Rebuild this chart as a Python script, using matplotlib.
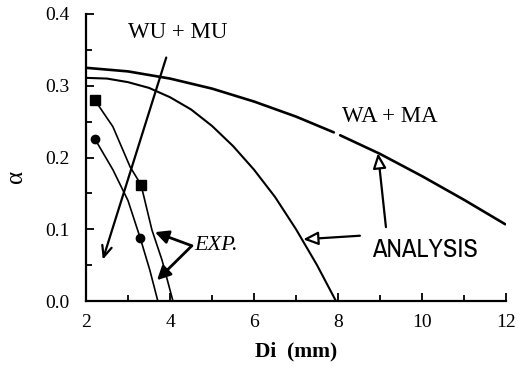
import numpy as np
import matplotlib
matplotlib.use("Agg")
import matplotlib.pyplot as plt
from matplotlib.ticker import MultipleLocator
from matplotlib import font_manager

# --- data ---
wa_x = [2.0, 3.0, 4.0, 5.0, 6.0, 7.0, 7.9, np.nan, 8.05, 9.0, 10.0, 11.0, 11.98]
wa_y = [0.325, 0.320, 0.310, 0.296, 0.278, 0.257, 0.235, np.nan, 0.231, 0.205, 0.174, 0.141, 0.107]

wu_x = [2.0, 2.5, 3.0, 3.5, 4.0, 4.5, 5.0, 5.5, 6.0, 6.5, 7.0, 7.5, 7.95]
wu_y = [0.311, 0.310, 0.305, 0.297, 0.284, 0.267, 0.244, 0.216, 0.183, 0.145, 0.100, 0.050, 0.0]

sq_line_x = [2.21, 2.64, 3.05, 3.31, 3.57, 3.81, 4.07]
sq_line_y = [0.280, 0.243, 0.187, 0.162, 0.099, 0.057, 0.0]
sq_x = [2.21, 3.31]
sq_y = [0.280, 0.162]

ci_line_x = [2.21, 2.64, 3.0, 3.29, 3.52, 3.71]
ci_line_y = [0.226, 0.183, 0.140, 0.088, 0.043, 0.0]
ci_x = [2.21, 3.29]
ci_y = [0.226, 0.088]

x_ticks = [2, 4, 6, 8, 10, 12]
y_ticks = [0.0, 0.1, 0.2, 0.3, 0.4]

serif = ["Liberation Serif", "DejaVu Serif"]

# pick a condensed sans font for "ANALYSIS" if one is installed
narrow, narrow_stretch, narrow_size = "Liberation Sans", "normal", 16
for f in font_manager.fontManager.ttflist:
    if f.style != "normal" or f.weight not in (400, "normal", "regular"):
        continue
    if "Narrow" in f.name or "Condensed" in f.name:
        narrow, narrow_stretch, narrow_size = f.name, f.stretch, 19
        break
else:
    for f in font_manager.fontManager.ttflist:
        if (f.stretch in ("condensed", "semi-condensed") and f.style == "normal"
                and f.weight in (400, "normal", "regular")
                and any(k in f.name for k in ("Sans", "Liberation", "Roboto", "Noto", "Open"))):
            narrow, narrow_stretch, narrow_size = f.name, f.stretch, 18
            break

fig = plt.figure(figsize=(5.18, 3.68), dpi=100)
ax = fig.add_axes([0.166, 0.182, 0.811, 0.780])

ax.plot(wa_x, wa_y, color="black", lw=1.9, solid_capstyle="round")
ax.plot(wu_x, wu_y, color="black", lw=1.5)
ax.plot(sq_line_x, sq_line_y, color="black", lw=1.2)
ax.plot(ci_line_x, ci_line_y, color="black", lw=1.2)
ax.plot(sq_x, sq_y, "s", color="black", ms=6.5, clip_on=False)
ax.plot(ci_x, ci_y, "o", color="black", ms=6, clip_on=False)

ax.set_xlim(2, 12)
ax.set_ylim(0, 0.4)
ax.set_xticks(x_ticks)
ax.set_yticks(y_ticks)
ax.set_yticklabels([f"{v:.1f}" for v in y_ticks])
ax.xaxis.set_minor_locator(MultipleLocator(1))
ax.yaxis.set_minor_locator(MultipleLocator(0.05))
ax.tick_params(which="both", direction="in", width=1.3)
ax.tick_params(which="major", length=6, labelsize=14)
ax.tick_params(axis="x", which="major", pad=9)
ax.tick_params(axis="y", which="major", pad=12)
ax.tick_params(which="minor", length=4)
for lab in ax.get_xticklabels() + ax.get_yticklabels():
    lab.set_family(serif)

for s in ["top", "right"]:
    ax.spines[s].set_visible(False)
for s in ["left", "bottom"]:
    ax.spines[s].set_linewidth(1.6)

ax.set_xlabel("Di  (mm)", family=serif, fontsize=15.5, fontweight="bold", labelpad=8)
ax.set_ylabel("α", family=serif, fontsize=18)
ax.yaxis.set_label_coords(-0.14, 0.435)

# annotations
ax.annotate("", xy=(2.38, 0.054), xytext=(3.93, 0.343),
            arrowprops=dict(arrowstyle="->,head_length=0.8,head_width=0.35", lw=1.6, color="black"))
ax.text(4.19, 0.374, "WU + MU", family=serif, fontsize=16.5, ha="center", va="center")

ax.text(9.24, 0.257, "WA + MA", family=serif, fontsize=16.5, ha="center", va="center")

ax.text(4.57, 0.077, "EXP.", family=serif, fontsize=16, style="italic", ha="left", va="center")
for tip in [(3.64, 0.096), (3.69, 0.029)]:
    ax.annotate("", xy=tip, xytext=(4.52, 0.077),
                arrowprops=dict(arrowstyle="-|>,head_length=0.8,head_width=0.4", lw=2.0,
                                color="black", shrinkA=0, shrinkB=0))

ax.text(10.06, 0.072, "ANALYSIS", family=[narrow, "DejaVu Sans"], fontstretch=narrow_stretch,
        fontsize=narrow_size, ha="center", va="center")
for tail, tip in [((8.52, 0.091), (7.17, 0.086)), ((9.14, 0.103), (8.95, 0.206))]:
    ax.annotate("", xy=tip, xytext=tail,
                arrowprops=dict(arrowstyle="-|>,head_length=0.9,head_width=0.4", lw=1.6,
                                ec="black", fc="white", shrinkA=0, shrinkB=0))

fig.savefig("out.png", dpi=100)
